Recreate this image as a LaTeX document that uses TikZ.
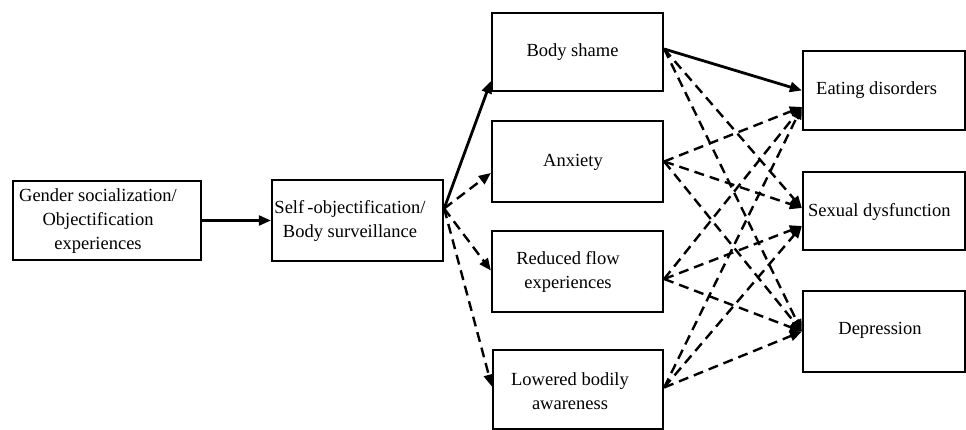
\documentclass[tikz,border=0pt]{standalone}
\usepackage{fontspec}
\setmainfont{Liberation Serif}
\usetikzlibrary{arrows.meta}
\tikzset{
  box/.style={draw=black, line width=2.3pt, rectangle, inner sep=0pt},
  lbl/.style={inner sep=0pt, align=center, font=\fontsize{18.5}{24}\selectfont},
  tip/.style={-{Triangle[length=12pt,width=10pt]}},
  solidarrow/.style={tip, line width=2.8pt},
  dasharrow/.style={tip, line width=2.4pt, dash pattern=on 10pt off 6pt}
}
\begin{document}
\begin{tikzpicture}[x=1pt,y=-1pt]
\useasboundingbox (0,0) rectangle (966,430);
% boxes
\node[box, minimum width=188pt, minimum height=79pt] (g)  at (107,220.5) {};
\node[box, minimum width=171pt, minimum height=81pt] (s)  at (357.5,220.5) {};
\node[box, minimum width=171pt, minimum height=78pt] (bs) at (577.5,52) {};
\node[box, minimum width=171pt, minimum height=81pt] (ax) at (577.5,161.5) {};
\node[box, minimum width=171pt, minimum height=81pt] (rf) at (577.5,271.5) {};
\node[box, minimum width=170pt, minimum height=79pt] (lb) at (578,389.5) {};
\node[box, minimum width=162pt, minimum height=79pt] (ed) at (884,90.5) {};
\node[box, minimum width=162pt, minimum height=78pt] (sd) at (884,211) {};
\node[box, minimum width=162pt, minimum height=81pt] (dp) at (884,331.5) {};
% texts
\node[lbl] (gt)  at (98,221) {Gender socialization/\\Objectification\\experiences};
\node[lbl] (st)  at (350,221) {Self\,-objectification/\\Body surveillance};
\node[lbl] (bst) at (572.5,52) {Body shame};
\node[lbl] (axt) at (573,162) {Anxiety};
\node[lbl] (rft) at (568,272) {Reduced flow\\experiences};
\node[lbl] (lbt) at (570,391) {Lowered bodily\\awareness};
\node[lbl, anchor=west] (edt) at (816,90) {Eating disorders};
\node[lbl, anchor=west] (sdt) at (808,212) {Sexual dysfunction};
\node[lbl] (dpt) at (880,330) {Depression};
% first stage
\draw[solidarrow, line width=2.3pt] (g.east) -- (s.west);
\draw[solidarrow] ([yshift=12pt]s.east) -- ([yshift=11pt]bs.south west);
\draw[dasharrow] ([yshift=12pt]s.east) -- ([yshift=-11.5pt]ax.west);
\draw[dasharrow] ([yshift=12pt]s.east) -- ([yshift=1pt]rf.west);
\draw[dasharrow] ([yshift=12pt]s.east) -- ([yshift=3pt]lb.west);
% second stage
\draw[solidarrow] ([yshift=3pt]bs.east) -- (ed.west);
\draw[dasharrow] ([yshift=3pt]bs.east) -- ([yshift=3pt]sd.west);
\draw[dasharrow] ([yshift=3pt]bs.east) -- (dp.west);
\draw[dasharrow] (ax.east) -- ([yshift=-16.5pt]ed.west);
\draw[dasharrow] (ax.east) -- ([yshift=3pt]sd.west);
\draw[dasharrow] (ax.east) -- (dp.west);
\draw[dasharrow] ([yshift=-7.5pt]rf.east) -- ([yshift=-16.5pt]ed.west);
\draw[dasharrow] ([yshift=-7.5pt]rf.east) -- ([yshift=-15pt]sd.west);
\draw[dasharrow] ([yshift=-7.5pt]rf.east) -- (dp.west);
\draw[dasharrow] ([yshift=2pt]lb.east) -- ([yshift=-16.5pt]ed.west);
\draw[dasharrow] ([yshift=2pt]lb.east) -- ([yshift=-15pt]sd.west);
\draw[dasharrow] ([yshift=2pt]lb.east) -- (dp.west);
\end{tikzpicture}
\end{document}
